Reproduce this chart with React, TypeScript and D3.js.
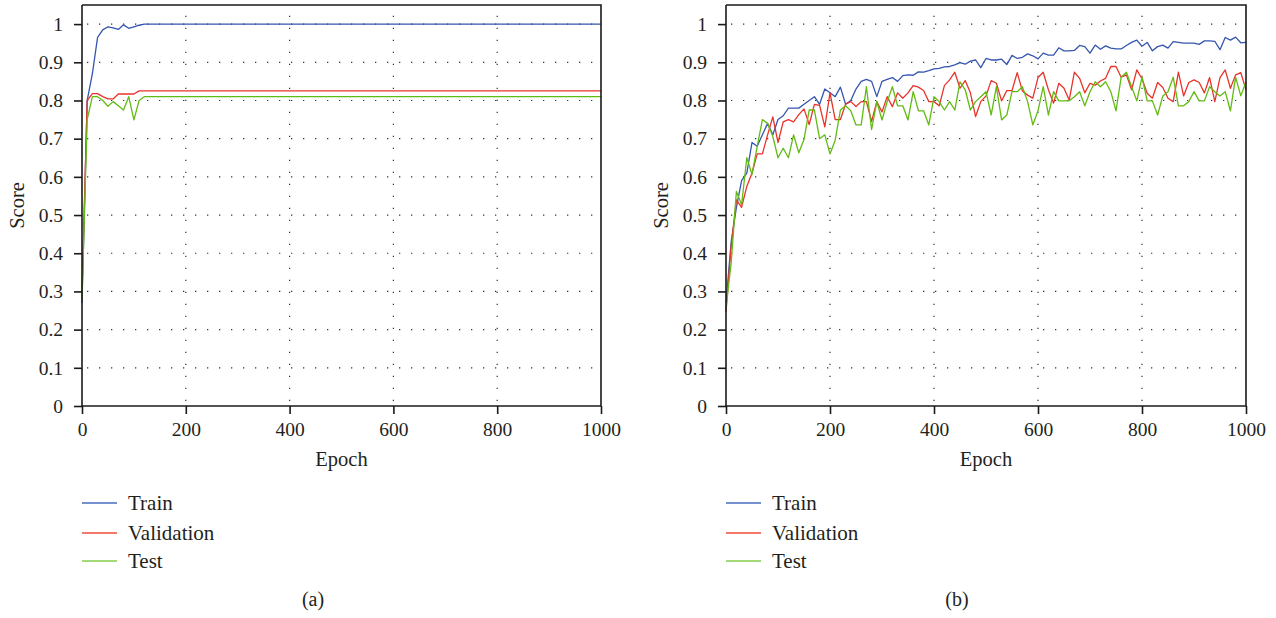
import { useEffect, useRef } from 'react';
import * as d3 from 'd3';

// panel (a): points every 10 epochs until the curves flatten, then the final epoch
const epochsA = [0, 10, 20, 30, 40, 50, 60, 70, 80, 90, 100, 110, 120, 1000];
const trainA = [0.27, 0.8, 0.87, 0.965, 0.985, 0.993, 0.99, 0.986, 0.998, 0.989, 0.993, 0.997, 1.0, 1.0];
const validA = [0.3, 0.8, 0.818, 0.818, 0.81, 0.804, 0.804, 0.817, 0.817, 0.817, 0.817, 0.825, 0.825, 0.825];
const testA = [0.28, 0.75, 0.81, 0.81, 0.8, 0.785, 0.797, 0.786, 0.775, 0.81, 0.749, 0.8, 0.81, 0.81];

// panel (b): one point every 10 epochs, 0..1000
const trainB = [
  0.27, 0.43, 0.52, 0.59, 0.61, 0.69, 0.68, 0.71, 0.74, 0.71, 0.75, 0.76, 0.78, 0.78, 0.78, 0.79, 0.8, 0.81, 0.79, 0.83,
  0.82, 0.81, 0.835, 0.79, 0.8, 0.83, 0.85, 0.855, 0.85, 0.81, 0.85, 0.855, 0.86, 0.85, 0.865, 0.867, 0.866, 0.875, 0.874, 0.878,
  0.883, 0.884, 0.888, 0.889, 0.893, 0.899, 0.895, 0.903, 0.906, 0.886, 0.91, 0.906, 0.906, 0.908, 0.894, 0.918, 0.91, 0.913, 0.922, 0.917,
  0.909, 0.924, 0.919, 0.919, 0.938, 0.93, 0.93, 0.931, 0.944, 0.941, 0.924, 0.945, 0.934, 0.943, 0.937, 0.935, 0.935, 0.944, 0.952, 0.958,
  0.942, 0.952, 0.93, 0.941, 0.945, 0.937, 0.954, 0.952, 0.95, 0.95, 0.95, 0.947, 0.956, 0.956, 0.955, 0.933, 0.965, 0.958, 0.966, 0.951,
  0.952,
];
const validB = [
  0.246, 0.42, 0.54, 0.52, 0.575, 0.61, 0.66, 0.66, 0.71, 0.757, 0.69, 0.744, 0.75, 0.744, 0.763, 0.778, 0.737, 0.79, 0.787, 0.731,
  0.82, 0.75, 0.75, 0.79, 0.797, 0.784, 0.797, 0.797, 0.745, 0.797, 0.77, 0.81, 0.784, 0.82, 0.806, 0.82, 0.839, 0.835, 0.826, 0.797,
  0.797, 0.786, 0.839, 0.854, 0.874, 0.832, 0.852, 0.82, 0.758, 0.797, 0.812, 0.852, 0.845, 0.799, 0.826, 0.826, 0.873, 0.825, 0.814, 0.806,
  0.86, 0.874, 0.828, 0.793, 0.845, 0.832, 0.801, 0.874, 0.858, 0.82, 0.845, 0.84, 0.851, 0.858, 0.889, 0.889, 0.861, 0.867, 0.828, 0.88,
  0.857, 0.819, 0.806, 0.847, 0.834, 0.806, 0.797, 0.874, 0.812, 0.847, 0.854, 0.847, 0.82, 0.86, 0.797, 0.86, 0.88, 0.832, 0.867, 0.873,
  0.828,
];
const testB = [
  0.257, 0.375, 0.562, 0.527, 0.65, 0.606, 0.68, 0.75, 0.74, 0.706, 0.65, 0.675, 0.65, 0.71, 0.663, 0.698, 0.775, 0.775, 0.7, 0.71,
  0.66, 0.696, 0.775, 0.786, 0.773, 0.736, 0.736, 0.836, 0.724, 0.797, 0.749, 0.797, 0.836, 0.786, 0.786, 0.749, 0.823, 0.773, 0.773, 0.736,
  0.81, 0.797, 0.775, 0.797, 0.775, 0.849, 0.828, 0.775, 0.797, 0.81, 0.823, 0.762, 0.836, 0.749, 0.762, 0.823, 0.823, 0.836, 0.797, 0.736,
  0.773, 0.836, 0.762, 0.823, 0.799, 0.799, 0.799, 0.81, 0.823, 0.786, 0.823, 0.849, 0.836, 0.849, 0.823, 0.773, 0.861, 0.874, 0.836, 0.799,
  0.861, 0.799, 0.799, 0.762, 0.812, 0.823, 0.861, 0.786, 0.786, 0.797, 0.823, 0.799, 0.799, 0.836, 0.823, 0.812, 0.823, 0.773, 0.861, 0.812,
  0.849,
];
const epochsB = trainB.map((_, i) => i * 10);

const yTicks = [0, 0.1, 0.2, 0.3, 0.4, 0.5, 0.6, 0.7, 0.8, 0.9, 1];
const yTickLabels = ['0', '0.1', '0.2', '0.3', '0.4', '0.5', '0.6', '0.7', '0.8', '0.9', '1'];
const xTicks = [0, 200, 400, 600, 800, 1000];
const xGrid = [200, 400, 600, 800];
const seriesNames = ['Train', 'Validation', 'Test'];
const lineColors = ['#3556b0', '#e8332a', '#62bb12'];
const legendColors = ['#4a6cc0', '#f04a3a', '#86cc4a'];

const FONT = '"Liberation Serif", "Times New Roman", serif';
const INK = '#231f20';

const drawPanel = (svg, left, right, epochs, series, caption, captionX) => {
  const top = 5;
  const bottom = 406;
  const x = d3.scaleLinear().domain([0, 1000]).range([left, right]);
  const y = d3.scaleLinear().domain([0, 1.05]).range([bottom, top]);
  const g = svg.append('g');

  // dotted grid
  g.selectAll('.hgrid')
    .data(yTicks.slice(1))
    .enter()
    .append('line')
    .attr('x1', left)
    .attr('x2', right)
    .attr('y1', (d) => y(d))
    .attr('y2', (d) => y(d))
    .attr('stroke', '#333')
    .attr('stroke-width', 1.2)
    .attr('stroke-dasharray', '1.3 10.7')
    .attr('stroke-dashoffset', -5);
  g.selectAll('.vgrid')
    .data(xGrid)
    .enter()
    .append('line')
    .attr('x1', (d) => x(d))
    .attr('x2', (d) => x(d))
    .attr('y1', bottom)
    .attr('y2', top)
    .attr('stroke', '#333')
    .attr('stroke-width', 1.2)
    .attr('stroke-dasharray', '1.3 10.7')
    .attr('stroke-dashoffset', -5);

  // series
  const line = d3
    .line()
    .x((d) => x(d[0]))
    .y((d) => y(d[1]));
  series.forEach((vals, i) => {
    g.append('path')
      .datum(vals.map((v, j) => [epochs[j], v]))
      .attr('d', line)
      .attr('fill', 'none')
      .attr('stroke', lineColors[i])
      .attr('stroke-width', 1.3)
      .attr('stroke-linejoin', 'round');
  });

  // axes
  const yAxis = g
    .append('g')
    .attr('transform', `translate(${left},0)`)
    .call(
      d3
        .axisLeft(y)
        .tickValues(yTicks)
        .tickFormat((d, i) => yTickLabels[i])
        .tickSize(8)
        .tickSizeOuter(0)
        .tickPadding(11)
    );
  const xAxis = g
    .append('g')
    .attr('transform', `translate(0,${bottom})`)
    .call(d3.axisBottom(x).tickValues(xTicks).tickFormat(d3.format('d')).tickSize(8).tickSizeOuter(0).tickPadding(8));
  [yAxis, xAxis].forEach((ax) => {
    ax.select('.domain').attr('stroke', '#1a1a1a').attr('stroke-width', 1.6);
    ax.selectAll('.tick line').attr('stroke', '#1a1a1a').attr('stroke-width', 1.6);
    ax.selectAll('.tick text').attr('font-family', FONT).attr('font-size', 19.5).attr('fill', INK);
  });
  yAxis.select('.domain').attr('d', `M0,${bottom}V${top}`);
  xAxis.select('.domain').attr('d', `M${left},0H${right}`);

  // box
  g.append('path')
    .attr('d', `M${left},${top}H${right}V${bottom}`)
    .attr('fill', 'none')
    .attr('stroke', '#1a1a1a')
    .attr('stroke-width', 1.6);

  // axis titles
  g.append('text')
    .attr('x', (left + right) / 2)
    .attr('y', 466)
    .attr('text-anchor', 'middle')
    .attr('font-family', FONT)
    .attr('font-size', 20.5)
    .attr('fill', INK)
    .text('Epoch');
  g.append('text')
    .attr('transform', `translate(${left - 58},${(top + bottom) / 2}) rotate(-90)`)
    .attr('text-anchor', 'middle')
    .attr('font-family', FONT)
    .attr('font-size', 20.5)
    .attr('fill', INK)
    .text('Score');

  // legend
  const legendY = [503, 533, 561];
  seriesNames.forEach((name, i) => {
    g.append('line')
      .attr('x1', left)
      .attr('x2', left + 35)
      .attr('y1', legendY[i])
      .attr('y2', legendY[i])
      .attr('stroke', legendColors[i])
      .attr('stroke-width', 1.5);
    g.append('text')
      .attr('x', left + 46)
      .attr('y', legendY[i] + 7)
      .attr('font-family', FONT)
      .attr('font-size', 21)
      .attr('fill', INK)
      .text(name);
  });

  g.append('text')
    .attr('x', captionX)
    .attr('y', 606)
    .attr('text-anchor', 'middle')
    .attr('font-family', FONT)
    .attr('font-size', 20)
    .attr('fill', INK)
    .text(caption);
};

const App = () => {
  const ref = useRef(null);

  useEffect(() => {
    const svg = d3.select(ref.current);
    svg.selectAll('*').remove();
    drawPanel(svg, 82, 601, epochsA, [trainA, validA, testA], '(a)', 313);
    drawPanel(svg, 726, 1246, epochsB, [trainB, validB, testB], '(b)', 957);
  }, []);

  return (
    <div style={{ position: 'absolute', left: 0, top: 0, background: '#fff' }}>
      <svg ref={ref} width={1276} height={618} style={{ display: 'block' }}></svg>
    </div>
  );
};

export default App;
